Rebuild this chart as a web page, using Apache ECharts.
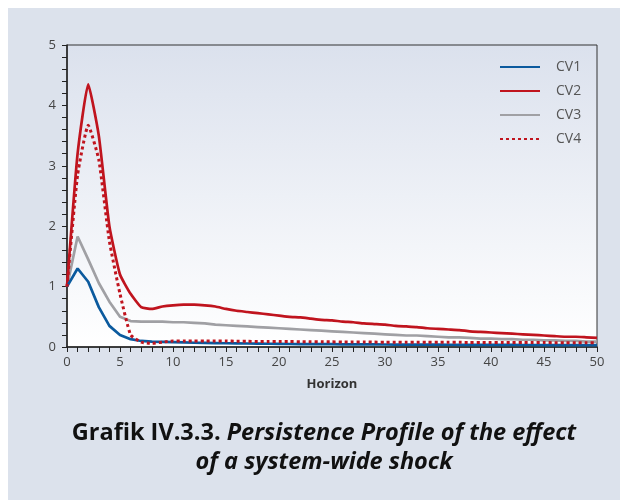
<!DOCTYPE html>
<html>
<head>
<meta charset="utf-8">
<script src="https://cdn.jsdelivr.net/npm/echarts@6/dist/echarts.min.js"></script>
<style>
  html, body { margin: 0; padding: 0; background: #fff; }
  #chart { width: 620px; height: 500px; }
</style>
</head>
<body>
<div id="chart"></div>
<script>
// horizon 0..50
const horizon = Array.from({ length: 51 }, (_, i) => i);

const cv1 = [1.0, 1.3, 1.08, 0.66, 0.35, 0.2, 0.13, 0.1, 0.09, 0.085, 0.08,
  0.075, 0.07, 0.068, 0.065, 0.062, 0.06, 0.058, 0.056, 0.054, 0.052,
  0.05, 0.049, 0.048, 0.047, 0.046, 0.045, 0.044, 0.043, 0.042, 0.041,
  0.04, 0.04, 0.039, 0.038, 0.038, 0.037, 0.036, 0.036, 0.035, 0.035,
  0.034, 0.034, 0.033, 0.033, 0.032, 0.032, 0.031, 0.031, 0.03, 0.03];

const cv2 = [1.0, 3.2, 4.35, 3.5, 2.0, 1.2, 0.88, 0.66, 0.63, 0.67, 0.69,
  0.7, 0.7, 0.69, 0.67, 0.63, 0.6, 0.58, 0.56, 0.54, 0.52,
  0.5, 0.49, 0.47, 0.45, 0.44, 0.42, 0.41, 0.39, 0.38, 0.37,
  0.35, 0.34, 0.33, 0.31, 0.3, 0.29, 0.28, 0.26, 0.25, 0.24,
  0.23, 0.22, 0.21, 0.2, 0.19, 0.18, 0.17, 0.17, 0.16, 0.15];

const cv3 = [1.0, 1.83, 1.45, 1.06, 0.75, 0.5, 0.43, 0.42, 0.42, 0.42, 0.41,
  0.41, 0.4, 0.39, 0.37, 0.36, 0.35, 0.34, 0.33, 0.32, 0.31,
  0.3, 0.29, 0.28, 0.27, 0.26, 0.25, 0.24, 0.23, 0.22, 0.21,
  0.2, 0.19, 0.19, 0.18, 0.17, 0.16, 0.16, 0.15, 0.14, 0.14,
  0.13, 0.13, 0.12, 0.12, 0.11, 0.11, 0.1, 0.1, 0.09, 0.09];

const cv4 = [1.0, 2.85, 3.67, 3.1, 1.75, 0.88, 0.2, 0.08, 0.06, 0.08, 0.1,
  0.1, 0.1, 0.1, 0.1, 0.1, 0.095, 0.095, 0.09, 0.09, 0.09,
  0.09, 0.088, 0.087, 0.086, 0.085, 0.084, 0.083, 0.082, 0.081, 0.08,
  0.08, 0.079, 0.079, 0.078, 0.078, 0.077, 0.077, 0.076, 0.076, 0.075,
  0.075, 0.074, 0.074, 0.073, 0.073, 0.072, 0.072, 0.071, 0.071, 0.07];

const seriesNames = ['CV1', 'CV2', 'CV3', 'CV4'];
const seriesValues = [cv1, cv2, cv3, cv4];
const colors = ['#0b5a9e', '#c0141e', '#a0a0a4', '#c0141e'];
const lineTypes = ['solid', 'solid', 'solid', [3, 3]];
const smoothing = [0, 0.15, 0, 0.15];

const yTicks = [0, 1, 2, 3, 4, 5];
const xTicks = [0, 5, 10, 15, 20, 25, 30, 35, 40, 45, 50];

const chart = echarts.init(document.getElementById('chart'));

chart.setOption({
  animation: false,
  graphic: [
    {
      type: 'rect',
      z: -10,
      shape: { x: 8, y: 8, width: 612, height: 492 },
      style: { fill: '#dce2ec' }
    },
    {
      // caption, centred a bit right of the panel like the original
      type: 'text',
      x: 324,
      y: 419,
      style: {
        text: '{b|Grafik IV.3.3. }{bi|Persistence Profile of the effect}\n{bi|of a system-wide shock}',
        align: 'center',
        verticalAlign: 'top',
        rich: {
          b: { fontFamily: 'Open Sans', fontWeight: 'bold', fontSize: 23.5, fill: '#111', lineHeight: 29 },
          bi: { fontFamily: 'Open Sans', fontWeight: 'bold', fontStyle: 'italic', fontSize: 23.5, fill: '#111', lineHeight: 29 }
        }
      }
    }
  ],
  legend: {
    left: 494,
    top: 55,
    orient: 'vertical',
    itemWidth: 40,
    itemHeight: 14,
    itemGap: 10,
    data: seriesNames,
    itemStyle: { opacity: 0 },
    textStyle: { fontFamily: 'Open Sans', fontSize: 14, color: '#555', padding: [0, 0, 0, 11] }
  },
  grid: {
    left: 67,
    right: 23,
    top: 45,
    bottom: 153,
    show: true,
    borderColor: '#333',
    borderWidth: 1,
    backgroundColor: new echarts.graphic.LinearGradient(0, 0, 0, 1, [
      { offset: 0, color: '#dbe1ed' },
      { offset: 1, color: '#ffffff' }
    ])
  },
  xAxis: {
    type: 'value',
    min: xTicks[0],
    max: xTicks[xTicks.length - 1],
    interval: 5,
    name: 'Horizon',
    nameLocation: 'middle',
    nameGap: 31,
    nameTextStyle: { fontFamily: 'Open Sans', fontWeight: 'bold', fontSize: 13, color: '#333' },
    axisLine: { lineStyle: { color: '#222', width: 1.5 } },
    axisTick: { length: 5, lineStyle: { color: '#222' } },
    minorTick: { show: true, splitNumber: 5, length: 5, lineStyle: { color: '#222' } },
    splitLine: { show: false },
    axisLabel: { fontFamily: 'Open Sans', fontSize: 13, color: '#444', margin: 9 }
  },
  yAxis: {
    type: 'value',
    min: yTicks[0],
    max: yTicks[yTicks.length - 1],
    interval: 1,
    axisLine: { show: true, lineStyle: { color: '#222', width: 1.5 } },
    axisTick: { show: true, length: 5, lineStyle: { color: '#222' } },
    minorTick: { show: true, splitNumber: 5, length: 5, lineStyle: { color: '#222' } },
    splitLine: { show: false },
    axisLabel: { fontFamily: 'Open Sans', fontSize: 13, color: '#444', margin: 11 }
  },
  series: seriesNames.map((name, i) => ({
    name: name,
    type: 'line',
    symbol: 'none',
    smooth: smoothing[i],
    data: horizon.map((h, j) => [h, seriesValues[i][j]]),
    color: colors[i],
    lineStyle: { color: colors[i], width: i === 3 ? 3 : 2.7, type: lineTypes[i] },
    z: [4, 3, 2, 5][i]
  }))
});
</script>
</body>
</html>
